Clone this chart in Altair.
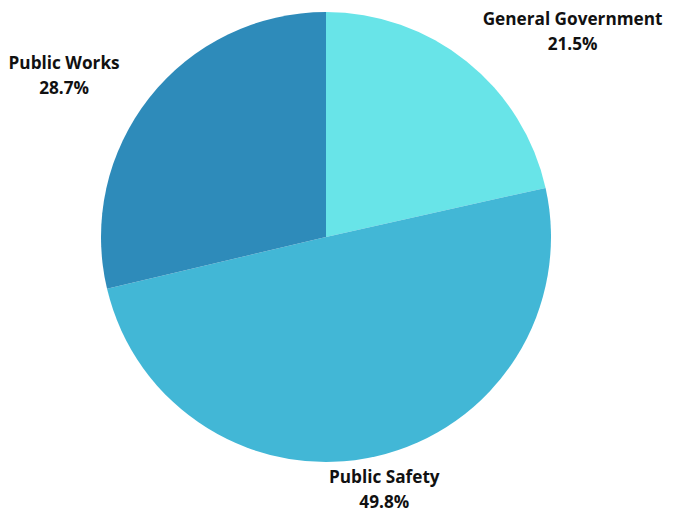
import altair as alt
import pandas as pd

categories = ["General Government", "Public Safety", "Public Works"]
shares = [21.5, 49.8, 28.7]
colors = ["#68E4E8", "#42B7D6", "#2E8BBA"]

df = pd.DataFrame({"category": categories, "share": shares, "order": [0, 1, 2]})

base = alt.Chart(df).transform_window(
    cum="sum(share)", sort=[alt.SortField("order")]
).transform_calculate(
    mid="datum.cum - datum.share / 2",
    label="[datum.category, format(datum.share, '.1f') + '%']",
)

pie = base.mark_arc(outerRadius=225, stroke=None).encode(
    theta=alt.Theta("share:Q", stack=True),
    color=alt.Color("category:N", scale=alt.Scale(domain=categories, range=colors), legend=None),
    order=alt.Order("order:Q"),
)

offsets = {"General Government": (84, -14), "Public Safety": (0, -12), "Public Works": (-58, -12)}
layers = [pie]
for cat in categories:
    dx, dy = offsets[cat]
    t = base.transform_filter(alt.datum.category == cat).mark_text(
        font="Open Sans", fontSize=17.2, fontWeight="bold", color="#111111",
        lineHeight=25, align="center", baseline="middle", dx=dx, dy=dy,
    ).encode(
        theta=alt.Theta("mid:Q", scale=alt.Scale(domain=[0, 100])),
        radius=alt.value(260),
        text="label:N",
    )
    layers.append(t)

chart = alt.layer(*layers).resolve_scale(theta="independent").properties(
    width=636, height=458, background="white", padding=0
).configure_view(stroke=None)

chart.save("out.html", embed_options={"renderer": "svg", "actions": False})
